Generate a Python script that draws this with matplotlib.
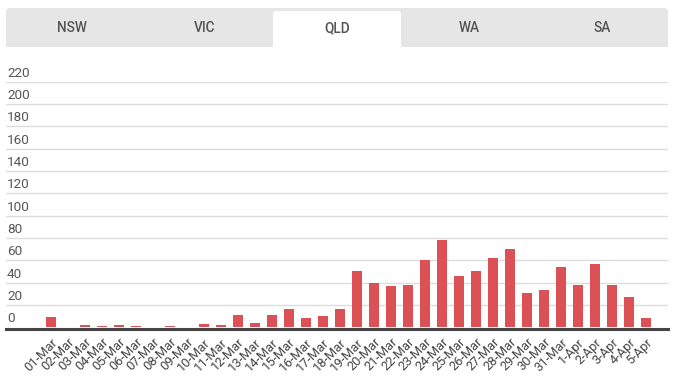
import matplotlib
matplotlib.use("Agg")
import matplotlib.pyplot as plt
import matplotlib.transforms as mtransforms
from matplotlib.patches import FancyBboxPatch, Rectangle

plt.rcParams["font.family"] = ["Roboto", "DejaVu Sans"]

# data
dates = ["01-Mar", "02-Mar", "03-Mar", "04-Mar", "05-Mar", "06-Mar", "07-Mar",
         "08-Mar", "09-Mar", "10-Mar", "11-Mar", "12-Mar", "13-Mar", "14-Mar",
         "15-Mar", "16-Mar", "17-Mar", "18-Mar", "19-Mar", "20-Mar", "21-Mar",
         "22-Mar", "23-Mar", "24-Mar", "25-Mar", "26-Mar", "27-Mar", "28-Mar",
         "29-Mar", "30-Mar", "31-Mar", "1-Apr", "2-Apr", "3-Apr", "4-Apr", "5-Apr"]
cases = [9, 0, 2, 1, 2, 1, 0, 1, 0, 3, 2, 11, 4, 11, 16, 8, 10, 16, 50, 40, 37,
         38, 60, 78, 46, 50, 62, 70, 31, 33, 54, 38, 57, 38, 27, 8]
tabs = ["NSW", "VIC", "QLD", "WA", "SA"]
active_tab = "QLD"
yticks = list(range(0, 221, 20))

W, H = 679, 382
fig = plt.figure(figsize=(W / 100, H / 100), dpi=100)

# tab strip drawn in pixel coords
bg = fig.add_axes([0, 0, 1, 1])
bg.set_xlim(0, W)
bg.set_ylim(H, 0)
bg.axis("off")

tx0, tx1, ty0, ty1 = 6, 668, 8, 46.7
bg.add_patch(FancyBboxPatch((tx0 + 4, ty0 + 4), tx1 - tx0 - 8, ty1 - ty0 - 8,
                            boxstyle="round,pad=4", fc="#e6e6e6", ec="none"))
bg.add_patch(Rectangle((tx0, ty0 + 10), tx1 - tx0, ty1 - ty0 - 10, fc="#e6e6e6", ec="none"))

tab_w = (tx1 - tx0) / len(tabs)
for i, t in enumerate(tabs):
    cx = tx0 + tab_w * (i + 0.5)
    if t == active_tab:
        sx0, sx1 = cx - 64, cx + 64
        bg.add_patch(FancyBboxPatch((sx0 + 3, 11 + 3), sx1 - sx0 - 6, ty1 - 11 - 3,
                                    boxstyle="round,pad=3", fc="white", ec="none"))
        bg.add_patch(Rectangle((sx0, 20), sx1 - sx0, ty1 - 20 + 0.5, fc="white", ec="none"))
    bg.text(cx, 28.5, t, ha="center", va="center", fontsize=9.8, color="#555555",
            fontweight="medium")

# bar chart
y_bot, y_top = 327.2, 81.7
ax = fig.add_axes([6 / W, (H - y_bot) / H, (668 - 6) / W, (y_bot - y_top) / H])
ax.set_facecolor("none")
x = list(range(len(dates)))
ax.bar(x, cases, width=0.59, color="#db5156", zorder=2)
ax.set_xlim(-2.647, 36.29)
ax.set_ylim(0, 220)

for s in ["top", "right", "left"]:
    ax.spines[s].set_visible(False)
ax.spines["bottom"].set_color("#444444")
ax.spines["bottom"].set_linewidth(2.2)
ax.spines["bottom"].set_position(("outward", 1.1))
ax.spines["bottom"].set_zorder(3)

for v in yticks:
    if v > 0:
        ax.axhline(v, color="#dddddd", lw=1, zorder=1)
    off = mtransforms.offset_copy(ax.get_yaxis_transform(), fig=fig, x=1, y=5, units="dots")
    ax.text(0, v, str(v), transform=off, ha="left", va="baseline",
            fontsize=9.7, color="#555555")

ax.set_yticks([])
ax.set_xticks(x)
ax.set_xticklabels(dates, rotation=45, ha="right", rotation_mode="anchor",
                   fontsize=9.3, color="#444444")
ax.tick_params(axis="x", length=0, pad=5)

fig.savefig("out.png", dpi=100)
